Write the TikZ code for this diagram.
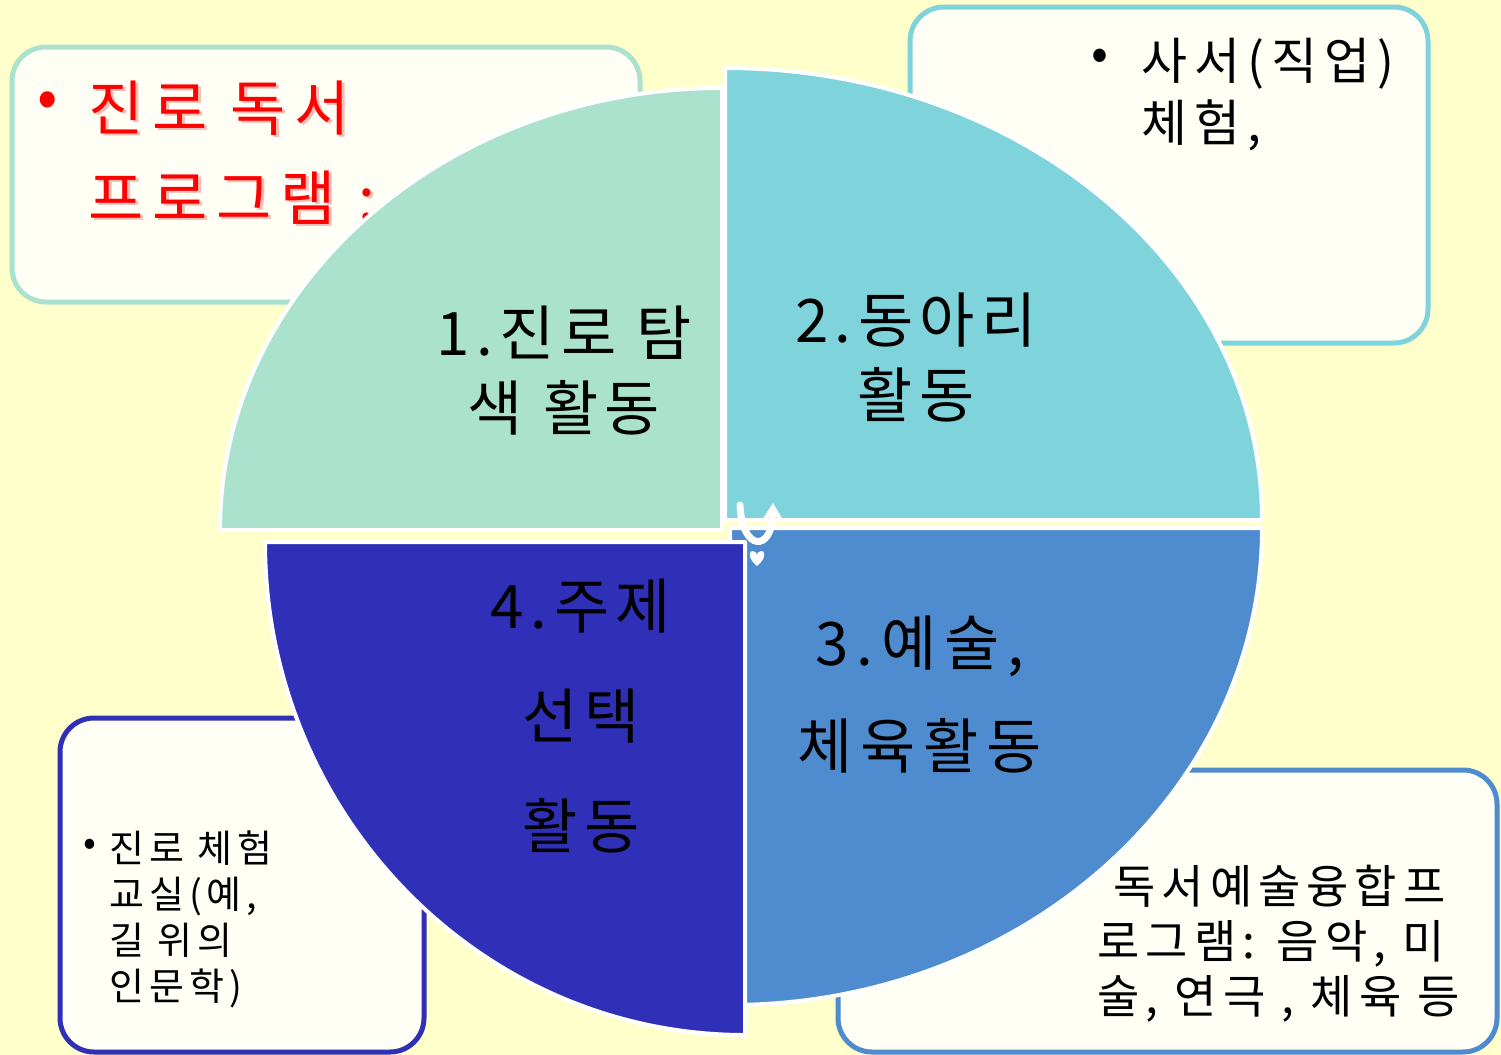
\documentclass[tikz,border=0pt]{standalone}
\usepackage{fontspec}
\setmainfont{Noto Sans CJK KR}
\usetikzlibrary{arrows.meta}
\definecolor{bg}{HTML}{FFFFCC}
\definecolor{boxfill}{HTML}{FFFFF6}
\definecolor{qa}{HTML}{ABE2CD}
\definecolor{qb}{HTML}{7FD3DA}
\definecolor{qc}{HTML}{4F8BCF}
\definecolor{qd}{HTML}{2F2FB8}
\definecolor{redtxt}{HTML}{FF0000}
\newcommand{\spaced}[1]{\addfontfeatures{LetterSpace=#1}}
\begin{document}
\begin{tikzpicture}[x=0.5pt,y=-0.5pt,
  box/.style={line width=2.5pt, fill=boxfill, rounded corners=17pt},
  pie/.style={draw=white, line width=2pt, line join=round},
  lbl/.style={inner sep=0pt, align=center, anchor=north, font=\fontsize{30}{37.5}\selectfont\spaced{11}},
  txt/.style={inner sep=0pt, align=left, anchor=north west}]
\fill[bg] (0,0) rectangle (1501,1055);
\useasboundingbox (0,0) rectangle (1501,1055);

% boxes
\filldraw[box, draw=qa] (12,47) rectangle (640,302);
\filldraw[box, draw=qb] (910,7) rectangle (1428,343);
\filldraw[box, draw=qd] (60,718) rectangle (424,1052);
\filldraw[box, draw=qc] (838,770) rectangle (1497,1052);

% box texts
\node[inner sep=0pt, text=redtxt, font=\fontsize{30}{45}\selectfont] (tlbul) at (48,105) {•};
\node[txt, text=redtxt!85!black, opacity=0.25, font=\fontsize{30}{45}\selectfont\spaced{15}] (tlshd) at (91,82) {진로 독서\\프로그램 :};
\node[txt, text=redtxt, font=\fontsize{30}{45}\selectfont\spaced{15}] (tltxt) at (88,80) {진로 독서\\프로그램 :};

\node[inner sep=0pt, font=\fontsize{25}{31}\selectfont] (trbul) at (1100,60) {•};
\node[txt, font=\fontsize{25}{31}\selectfont\spaced{14}] (trtxt) at (1141,38) {사서(직업)\\체험,};

\node[inner sep=0pt, font=\fontsize{19}{23}\selectfont] (blbul) at (90,847) {•};
\node[txt, font=\fontsize{19}{23}\selectfont\spaced{13}] (bltxt) at (109,830) {진로 체험\\교실(예,\\길 위의\\인문학)};

\node[txt, font=\fontsize{23}{27.5}\selectfont\spaced{13}] (brtxt) at (1097,865) {\hspace{8pt}독서예술융합프\\로그램: 음악, 미\\술, 연극 , 체육 등};

% pie quadrants
\filldraw[pie, fill=qa] (722,530) -- (220,530) .. controls (220,286) and (445,88) .. (722,88) -- cycle;
\filldraw[pie, fill=qb] (725,520) -- (725,68) .. controls (1022,68) and (1262,270) .. (1262,520) -- cycle;
\filldraw[pie, fill=qc] (730,528) -- (1262,528) .. controls (1262,791) and (1024,1005) .. (730,1005) -- cycle;
\filldraw[pie, fill=qd] (745,542) -- (745,1035) .. controls (480,1035) and (265,814) .. (265,542) -- cycle;

% central white mark
\draw[white, line width=3.5pt, line cap=round, -{Stealth[length=9pt,width=11pt]}] (740,505) .. controls (742,552) and (772,552) .. (773,503);
\fill[white] (757,566) .. controls (747,558) and (749,550) .. (753,551) .. controls (756,551) and (757,554) .. (757,555) .. controls (757,554) and (758,551) .. (761,551) .. controls (765,550) and (767,558) .. (757,566) -- cycle;

% pie labels
\node[lbl] (l1) at (564,305) {1.진로 탐\\색 활동};
\node[lbl] (l2) at (916,292) {2.동아리\\활동};
\node[lbl, font=\fontsize{30}{51.5}\selectfont\spaced{13}] (l3) at (920,615) {3.예술,\\체육활동};
\node[lbl, font=\fontsize{30}{55}\selectfont\spaced{11}] (l4) at (581,578) {4.주제\\선택\\활동};
\end{tikzpicture}
\end{document}
